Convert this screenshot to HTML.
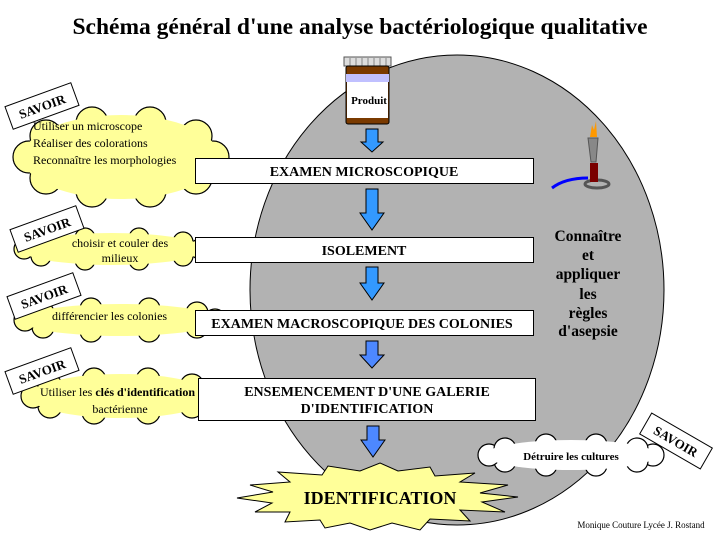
<!DOCTYPE html>
<html><head><meta charset="utf-8"><style>
html,body{margin:0;padding:0;background:#fff;}
svg{display:block;font-family:"Liberation Serif",serif;}
</style></head><body>
<svg width="720" height="540" viewBox="0 0 720 540" xmlns="http://www.w3.org/2000/svg">
<text x="360" y="34" text-anchor="middle" font-size="23.5" font-weight="bold">Schéma général d'une analyse bactériologique qualitative</text>
<ellipse cx="457" cy="290" rx="207" ry="235" fill="#b2b2b2" stroke="#000" stroke-width="1"/>

<!-- clouds -->
<g stroke="#000" stroke-width="1.2" fill="#ffff99">
<g><circle cx="213" cy="157" r="16"/><circle cx="196" cy="178" r="16"/><circle cx="150" cy="191" r="16"/><circle cx="92" cy="191" r="16"/><circle cx="46" cy="178" r="16"/><circle cx="29" cy="157" r="16"/><circle cx="46" cy="136" r="16"/><circle cx="92" cy="123" r="16"/><circle cx="150" cy="123" r="16"/><circle cx="196" cy="136" r="16"/></g>
<g><circle cx="200" cy="249" r="10"/><circle cx="183" cy="256" r="10"/><circle cx="139" cy="260" r="10"/><circle cx="85" cy="260" r="10"/><circle cx="41" cy="256" r="10"/><circle cx="24" cy="249" r="10"/><circle cx="41" cy="242" r="10"/><circle cx="85" cy="238" r="10"/><circle cx="139" cy="238" r="10"/><circle cx="183" cy="242" r="10"/></g>
<g><circle cx="215" cy="320" r="11"/><circle cx="197" cy="327" r="11"/><circle cx="149" cy="331" r="11"/><circle cx="91" cy="331" r="11"/><circle cx="43" cy="327" r="11"/><circle cx="25" cy="320" r="11"/><circle cx="43" cy="313" r="11"/><circle cx="91" cy="309" r="11"/><circle cx="149" cy="309" r="11"/><circle cx="197" cy="313" r="11"/></g>
<g><circle cx="209" cy="396" r="12"/><circle cx="192" cy="406" r="12"/><circle cx="148" cy="412" r="12"/><circle cx="94" cy="412" r="12"/><circle cx="50" cy="406" r="12"/><circle cx="33" cy="396" r="12"/><circle cx="50" cy="386" r="12"/><circle cx="94" cy="380" r="12"/><circle cx="148" cy="380" r="12"/><circle cx="192" cy="386" r="12"/></g>
</g>
<g fill="#ffff99">
<ellipse cx="121" cy="157" rx="98" ry="42"/>
<ellipse cx="112" cy="249" rx="92" ry="16"/>
<ellipse cx="120" cy="320" rx="99" ry="16"/>
<ellipse cx="121" cy="396" rx="92" ry="22"/>
</g>
<g stroke="#000" stroke-width="1.2" fill="#fff">
<circle cx="653" cy="455" r="11"/><circle cx="637" cy="461" r="11"/><circle cx="596" cy="465" r="11"/><circle cx="546" cy="465" r="11"/><circle cx="505" cy="461" r="11"/><circle cx="489" cy="455" r="11"/><circle cx="505" cy="449" r="11"/><circle cx="546" cy="445" r="11"/><circle cx="596" cy="445" r="11"/><circle cx="637" cy="449" r="11"/>
</g>
<ellipse cx="571" cy="455" rx="86" ry="15" fill="#fff"/>

<g font-size="12">
<text x="33" y="130">Utiliser un microscope</text>
<text x="33" y="147">Réaliser des colorations</text>
<text x="33" y="164">Reconnaître les morphologies</text>
<text x="120" y="247" text-anchor="middle">choisir et couler des</text>
<text x="120" y="262" text-anchor="middle">milieux</text>
<text x="52" y="320">différencier  les colonies</text>
<text x="40" y="396">Utiliser les <tspan font-weight="bold">clés d'identification</tspan></text>
<text x="120" y="413" text-anchor="middle">bactérienne</text>
</g>
<text x="571" y="460" text-anchor="middle" font-size="11" font-weight="bold">Détruire les cultures</text>

<!-- SAVOIR tags -->
<g font-size="13" font-weight="bold" text-anchor="middle">
<g transform="translate(42,106) rotate(-20)"><rect x="-35" y="-12" width="70" height="24" fill="#fff" stroke="#000"/><text y="5">SAVOIR</text></g>
<g transform="translate(47,229) rotate(-20)"><rect x="-35" y="-12" width="70" height="24" fill="#fff" stroke="#000"/><text y="5">SAVOIR</text></g>
<g transform="translate(44,296) rotate(-20)"><rect x="-35" y="-12" width="70" height="24" fill="#fff" stroke="#000"/><text y="5">SAVOIR</text></g>
<g transform="translate(42,371) rotate(-20)"><rect x="-35" y="-12" width="70" height="24" fill="#fff" stroke="#000"/><text y="5">SAVOIR</text></g>
<g transform="translate(676,441) rotate(30)"><rect x="-35" y="-12" width="70" height="24" fill="#fff" stroke="#000"/><text y="5">SAVOIR</text></g>
</g>

<!-- boxes -->
<g fill="#fff" stroke="#000" stroke-width="1">
<rect x="195.5" y="158.5" width="338" height="25"/>
<rect x="195.5" y="237.5" width="338" height="25"/>
<rect x="195.5" y="310.5" width="338" height="25"/>
<rect x="198.5" y="378.5" width="337" height="42"/>
</g>
<g font-size="14" font-weight="bold" text-anchor="middle">
<text x="364" y="176">EXAMEN MICROSCOPIQUE</text>
<text x="364" y="255">ISOLEMENT</text>
<text x="362" y="328">EXAMEN MACROSCOPIQUE DES COLONIES</text>
<text x="367" y="396">ENSEMENCEMENT D'UNE GALERIE</text>
<text x="367" y="413">D'IDENTIFICATION</text>
</g>

<!-- arrows -->
<g fill="#3399ff" stroke="#000" stroke-width="1">
<polygon points="366,129 378,129 378,142 383,142 372,152 361,142 366,142"/>
<polygon points="366,189 378,189 378,213 384,213 372,230 360,213 366,213"/>
<polygon points="366,267 378,267 378,283 384,283 372,300 360,283 366,283"/>
<polygon points="366,341 378,341 378,355 384,355 372,368 360,355 366,355" fill="#4d88ff"/>
<polygon points="367,426 379,426 379,440 385,440 373,457 361,440 367,440" fill="#4d88ff"/>
</g>

<!-- star -->
<polygon fill="#ffff99" stroke="#000" stroke-width="1" points="380,463 398,471 430,467 435,476 475,473 460,482 508,485 480,493 518,497 482,502 505,512 460,510 470,521 430,519 420,530 392,523 370,530 350,523 325,528 320,520 285,522 290,512 255,512 272,503 237,498 273,492 250,485 290,482 278,472 322,475 328,466 360,471"/>
<text x="380" y="504" text-anchor="middle" font-size="18" font-weight="bold">IDENTIFICATION</text>

<!-- jar -->
<rect x="344" y="57" width="47" height="9" fill="#ddd" stroke="#555"/>
<g stroke="#888" stroke-width="1"><line x1="350" y1="58" x2="350" y2="66"/><line x1="356" y1="58" x2="356" y2="66"/><line x1="362" y1="58" x2="362" y2="66"/><line x1="368" y1="58" x2="368" y2="66"/><line x1="374" y1="58" x2="374" y2="66"/><line x1="380" y1="58" x2="380" y2="66"/><line x1="386" y1="58" x2="386" y2="66"/></g>
<rect x="346" y="66" width="43" height="58" fill="#7a3a00" stroke="#000" rx="2"/>
<rect x="346" y="74" width="43" height="8" fill="#c0c0ff"/>
<rect x="347" y="82" width="41" height="36" fill="#fff"/>
<text x="369" y="104" text-anchor="middle" font-size="11" font-weight="bold">Produit</text>

<!-- burner -->
<ellipse cx="597" cy="184" rx="12" ry="4" fill="none" stroke="#555" stroke-width="3"/>
<rect x="590" y="163" width="8" height="19" fill="#7a0000"/>
<polygon points="588,138 598,138 596,162 591,162" fill="#888" stroke="#555"/>
<polygon points="590,137 592,125 594,130 596,121 597,137" fill="#ff9900"/>
<path d="M552,188 Q565,178 588,178" fill="none" stroke="#0000ff" stroke-width="3"/>

<g font-size="15.5" font-weight="bold" text-anchor="middle">
<text x="588" y="241">Connaître</text>
<text x="588" y="260">et</text>
<text x="588" y="279">appliquer</text>
<text x="588" y="299">les</text>
<text x="588" y="318">règles</text>
<text x="588" y="336">d'asepsie</text>
</g>
<text x="641" y="528" text-anchor="middle" font-size="9">Monique Couture Lycée J. Rostand</text>
</svg>
</body></html>
